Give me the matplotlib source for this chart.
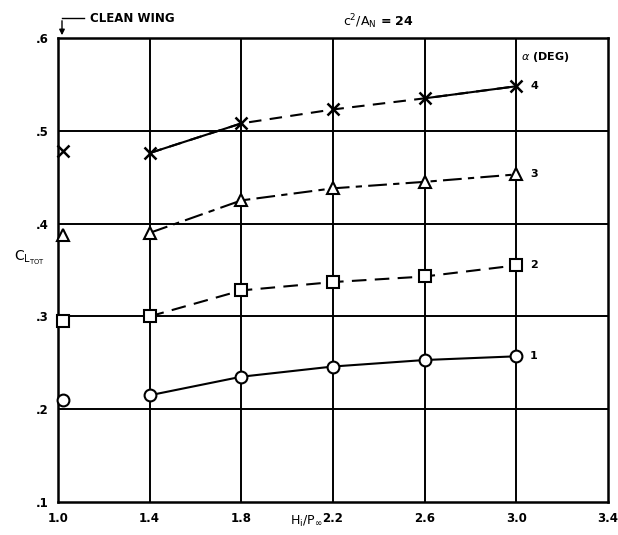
import matplotlib.pyplot as plt

# H_i / P_inf positions of the tested configurations
hp = [1.4, 1.8, 2.2, 2.6, 3.0]
x_clean = 1.0

# C_L_TOT for each angle of attack
cl_1 = [0.215, 0.235, 0.246, 0.253, 0.257]
cl_2 = [0.300, 0.328, 0.337, 0.343, 0.355]
cl_3 = [0.390, 0.425, 0.438, 0.445, 0.453]
cl_4 = [0.476, 0.508, 0.523, 0.535, 0.548]

# clean wing values (at x = 1.0)
clean = [0.210, 0.295, 0.388, 0.478]

alpha_labels = ['1', '2', '3', '4']
xticks = [1.0, 1.4, 1.8, 2.2, 2.6, 3.0, 3.4]
xtick_labels = ['1.0', '1.4', '1.8', '2.2', '2.6', '3.0', '3.4']
yticks = [0.1, 0.2, 0.3, 0.4, 0.5, 0.6]
ytick_labels = ['.1', '.2', '.3', '.4', '.5', '.6']

plt.rcParams['font.family'] = ['DejaVu Sans']

fig = plt.figure(figsize=(6.18, 5.35), dpi=100)
ax = fig.add_axes([58 / 618, 33 / 535, 550 / 618, 464 / 535])
ax.set_xlim(1.0, 3.4)
ax.set_ylim(0.1, 0.6)

for x in xticks[1:-1]:
    ax.axvline(x, color='black', lw=1.4, zorder=1)
for y in yticks[1:-1]:
    ax.axhline(y, color='black', lw=1.4, zorder=1)
for s in ax.spines.values():
    s.set_linewidth(1.8)

styles = [
    ('o', 'solid', cl_1),
    ('s', (0, (7, 4)), cl_2),
    ('^', (0, (9, 3, 3, 3)), cl_3),
    ('x', (0, (6, 4)), cl_4),
]
for (mk, ls, vals), c0, lab in zip(styles, clean, alpha_labels):
    ax.plot(hp, vals, color='black', lw=1.5, ls=ls, zorder=2)
    if mk == 'x':
        ax.plot(hp, vals, ls='none', marker='x', ms=9, mew=1.8,
                color='black', zorder=3)
        ax.plot([x_clean + 0.02], [c0], ls='none', marker='x', ms=9,
                mew=1.8, color='black', clip_on=False, zorder=3)
    else:
        ax.plot(hp, vals, ls='none', marker=mk, ms=8.5, mew=1.5,
                mfc='white', mec='black', zorder=3)
        ax.plot([x_clean + 0.02], [c0], ls='none', marker=mk, ms=8.5,
                mew=1.5, mfc='white', mec='black', clip_on=False, zorder=3)
    ax.text(hp[-1] + 0.06, vals[-1], lab, fontsize=8, fontweight='bold',
            va='center', ha='left')

# solid segments of the alpha = 4 curve
ax.plot(hp[:2], cl_4[:2], color='black', lw=1.5, zorder=2)
ax.plot(hp[-2:], cl_4[-2:], color='black', lw=1.5, zorder=2)

ax.set_xticks(xticks)
ax.set_xticklabels(xtick_labels, fontsize=8.5, fontweight='bold')
ax.set_yticks(yticks)
ax.set_yticklabels(ytick_labels, fontsize=8.5, fontweight='bold')
ax.tick_params(length=0, pad=7)

ax.text(3.02, 0.58, r'$\alpha$ (DEG)', fontsize=8, fontweight='bold',
        va='center', ha='left')

fig.text(0.555, 1 - 22 / 535, r'$\mathrm{c^2/A_N}$ = 24', fontsize=9,
         fontweight='bold', ha='left', va='center')
fig.text(90 / 618, 1 - 18 / 535, 'CLEAN WING', fontsize=8.5,
         fontweight='bold', ha='left', va='center')
fig.text(14 / 618, 1 - 258 / 535, r'$\mathrm{C_{L_{TOT}}}$', fontsize=10,
         ha='left', va='center')
fig.text(290 / 618, 1 - 521 / 535, r'$\mathrm{H_i/P_\infty}$', fontsize=9,
         ha='left', va='center')

# bent arrow for the clean wing marker
ax.annotate('', xy=(62 / 618, 1 - 38 / 535), xycoords='figure fraction',
            xytext=(62 / 618, 1 - 18 / 535), textcoords='figure fraction',
            arrowprops=dict(arrowstyle='-|>', color='black', lw=1.0,
                            mutation_scale=8))
fig.add_artist(plt.Line2D([62 / 618, 84 / 618], [1 - 18 / 535, 1 - 18 / 535],
                          color='black', lw=1.0))

fig.savefig('out.png', dpi=100)
